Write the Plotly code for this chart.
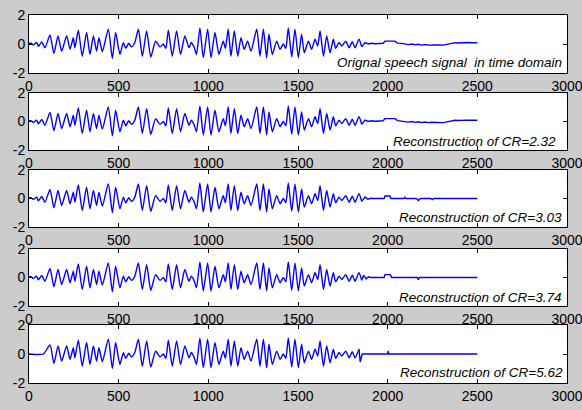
import plotly.graph_objects as go

# ---- data (sample index, amplitude) ----
head_t = [0, 12, 24, 43, 52, 71, 89]
head_v = [0.05, 0.05, -0.07, 0.10, -0.16, 0.14, -0.26]

voiced_t = [117, 139, 162, 182, 210, 229, 247, 256, 275, 297, 321, 340, 359, 377, 390, 409,
            442, 465, 483, 507, 526, 540, 556, 572, 590, 610, 632, 656, 679, 706, 731, 749, 763,
            777, 799, 823, 845, 869, 892, 905, 920, 934, 953, 972, 996, 1015, 1037, 1059, 1083,
            1095, 1111, 1126, 1145, 1164, 1182, 1200, 1219, 1238, 1270, 1288, 1307, 1325, 1338,
            1357, 1381, 1400, 1418, 1432, 1446, 1465, 1483, 1502, 1520, 1535, 1558, 1576, 1595,
            1610, 1623, 1642, 1660, 1679, 1697, 1710, 1729, 1744, 1766, 1785, 1803, 1818, 1840, 1855]
voiced_v = [0.63, -0.65, 0.56, -0.49, 0.56, -0.37, 0.44, -0.26, 0.95, -0.84, 0.79, -0.72, 0.56, -0.49, 0.44, -0.53,
            1.02, -1.00, 0.79, -0.72, 0.09, -0.30, 0.05, -0.20, 0.10, 1.02, -0.84, 0.90, -0.90, 0.20, -0.20, 0.00, -0.30,
            0.95, -0.84, 0.90, -0.72, 0.56, -0.26, 0.10, -0.20, -0.72, 1.10, -0.95, 1.02, -0.95, 0.79, -0.72, 0.20,
            -0.30, 1.02, -0.84, 0.90, -0.84, 0.44, -0.37, 0.20, -0.49, 1.02, -0.84, 1.02, -0.95, 0.67,
            -0.72, 0.20, -0.37, 0.00, -0.30, 1.10, -0.90, 1.02, -0.95, 0.67, -0.60, 0.20, -0.37, 0.33,
            -0.14, 0.90, -0.84, 0.56, -0.60, 0.33, -0.30, 0.10, -0.14, 0.20, -0.26, 0.16, -0.26, 0.33, -0.20]

orig_tail_t = [1874, 1892, 1910, 1930, 1960, 1975, 1985, 2040, 2055, 2080, 2115, 2135, 2153, 2170, 2190,
               2210, 2227, 2245, 2264, 2290, 2311, 2330, 2348, 2376, 2395, 2413, 2441, 2470, 2500]
orig_tail_v = [0.10, 0.00, 0.05, 0.02, 0.05, 0.05, 0.20, 0.20, 0.06, 0.04, -0.04, 0.00, -0.06, -0.02, -0.08,
               -0.04, -0.08, -0.05, -0.07, -0.06, -0.08, -0.03, 0.02, 0.09, 0.07, 0.09, 0.10, 0.09, 0.09]

cr303_tail_t = [1874, 1890, 1905, 1920, 1980, 1985, 2012, 2018, 2090, 2096, 2102, 2160, 2171, 2182, 2240, 2249, 2258, 2500]
cr303_tail_v = [0.10, -0.05, 0.02, 0.00, 0.00, 0.18, 0.18, 0.00, 0.00, 0.08, 0.00, 0.00, -0.14, 0.00, 0.00, -0.08, 0.00, 0.00]

cr374_tail_t = [1866, 1880, 1892, 1905, 1980, 1985, 2015, 2022, 2165, 2171, 2177, 2500]
cr374_tail_v = [0.15, -0.10, 0.05, 0.00, 0.00, 0.20, 0.20, 0.00, 0.00, -0.15, 0.00, 0.00]

cr562_head_t = [0, 80]
cr562_head_v = [0.0, 0.0]
cr562_end = 1840
cr562_tail_t = [1847, 1858, 2000, 2003, 2006, 2500]
cr562_tail_v = [-0.55, 0.00, 0.00, 0.22, 0.00, 0.00]

labels = ["<i>Orignal speech signal\u00a0 in time domain</i>",
          "<i>Reconstruction of CR=2.32</i>",
          "<i>Reconstruction of CR=3.03</i>",
          "<i>Reconstruction of CR=3.74</i>",
          "<i>Reconstruction of CR=5.62</i>"]
x_ticks = [0, 500, 1000, 1500, 2000, 2500, 3000]
y_ticks = [-2, 0, 2]

# ---- assemble series: (body_t, body_v, tail_t, tail_v) ----
v_cut = [i for i, t in enumerate(voiced_t) if t <= cr562_end]
series = [
    (head_t + voiced_t, head_v + voiced_v, orig_tail_t, orig_tail_v),
    (head_t + voiced_t, head_v + voiced_v, orig_tail_t, orig_tail_v),
    (head_t + voiced_t, head_v + voiced_v, cr303_tail_t, cr303_tail_v),
    (head_t + voiced_t, head_v + voiced_v, cr374_tail_t, cr374_tail_v),
    (cr562_head_t + [voiced_t[i] for i in v_cut], cr562_head_v + [voiced_v[i] for i in v_cut],
     cr562_tail_t, cr562_tail_v),
]

W, H = 582, 410
tops = [15, 93, 170, 249, 325]
bots = [73, 150, 227, 306, 383]
label_y = [-1.26, -1.37, -1.30, -1.37, -1.26]
label_x = [2985, 2950, 2985, 2980, 2990]

fig = go.Figure()
layout = dict(
    width=W, height=H, margin=dict(l=0, r=0, t=0, b=0, autoexpand=False),
    paper_bgcolor="#cccccc", plot_bgcolor="white", showlegend=False,
    font=dict(family="Liberation Sans, Arial, sans-serif", size=14, color="black"),
    annotations=[],
)
for k, (bt, bv, tt, tv) in enumerate(series):
    sfx = "" if k == 0 else str(k + 1)
    fig.add_trace(go.Scatter(x=bt, y=bv, mode="lines",
                             line=dict(color="#0000ff", width=1.4, shape="spline", smoothing=0.6),
                             xaxis="x" + sfx, yaxis="y" + sfx, hoverinfo="skip"))
    fig.add_trace(go.Scatter(x=bt[-1:] + tt, y=bv[-1:] + tv, mode="lines",
                             line=dict(color="#0000ff", width=1.4),
                             xaxis="x" + sfx, yaxis="y" + sfx, hoverinfo="skip"))
    ax = dict(range=[0, 3000], tickvals=x_ticks, ticktext=[str(t) for t in x_ticks],
              domain=[29 / W, 567 / W], anchor="y" + sfx, showgrid=False, zeroline=False,
              showline=True, linecolor="black", linewidth=1, mirror="ticks", automargin=False,
              ticklabeloverflow="allow",
              ticks="inside", ticklen=4, tickcolor="black", tickfont=dict(size=14))
    ay = dict(range=[-2, 2], tickvals=y_ticks, ticktext=[str(t) for t in y_ticks],
              domain=[1 - bots[k] / H, 1 - tops[k] / H], anchor="x" + sfx, showgrid=False,
              zeroline=False, showline=True, linecolor="black", linewidth=1, mirror="ticks",
              automargin=False, ticklabeloverflow="allow", ticks="inside", ticklen=4,
              tickcolor="black", tickfont=dict(size=14))
    layout["xaxis" + sfx] = ax
    layout["yaxis" + sfx] = ay
    layout["annotations"].append(dict(text=labels[k], x=label_x[k], y=label_y[k],
                                      xref="x" + sfx, yref="y" + sfx, xanchor="right",
                                      yanchor="middle", showarrow=False,
                                      font=dict(size=13.5, color="black")))
fig.update_layout(**layout)
fig.write_html("out.html", config={"displayModeBar": False},
               post_script="document.body.style.margin='0px';document.body.style.overflow='hidden';")
